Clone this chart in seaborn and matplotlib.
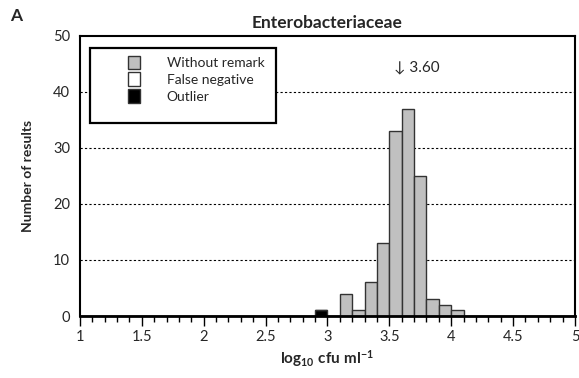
import numpy as np
import pandas as pd
import matplotlib
matplotlib.use("Agg")
import matplotlib.pyplot as plt
import seaborn as sns
from matplotlib.patches import Patch, Rectangle
from matplotlib.ticker import MultipleLocator

# Data
bin_left = [2.9, 3.1, 3.2, 3.3, 3.4, 3.5, 3.6, 3.7, 3.8, 3.9, 4.0]
counts = [1, 4, 1, 6, 13, 33, 37, 25, 3, 2, 1]
category = ["Outlier"] + ["Without remark"] * 10
categories = ["Without remark", "False negative", "Outlier"]
colors = {"Without remark": "#c0c0c0", "False negative": "#ffffff", "Outlier": "#000000"}
title = "Enterobacteriaceae"
median_label = "\u2193 3.60"

sns.set_theme(style="white")
plt.rcParams['font.family'] = ['Lato', 'DejaVu Sans']
plt.rcParams['mathtext.fontset'] = 'custom'
plt.rcParams['mathtext.rm'] = 'Lato:bold'
plt.rcParams['mathtext.it'] = 'Lato:bold'
plt.rcParams['mathtext.bf'] = 'Lato:bold'
plt.rcParams['mathtext.default'] = 'rm'

df = pd.DataFrame({"x": np.array(bin_left) + 0.05, "n": counts, "cat": category})

fig = plt.figure(figsize=(5.79, 3.78), dpi=100)
ax = fig.add_axes([0.138, 0.164, 0.855, 0.741])
sns.histplot(data=df, x="x", weights="n", hue="cat", binwidth=0.1, binrange=(1.0, 5.0),
             multiple="stack", hue_order=categories, palette=colors, alpha=1,
             edgecolor="#333333", linewidth=1.0, legend=False, ax=ax, zorder=3)

ax.set_xlim(1, 5)
ax.set_ylim(0, 50)
ax.xaxis.set_major_locator(MultipleLocator(0.5))
ax.xaxis.set_minor_locator(MultipleLocator(0.1))
ax.yaxis.set_major_locator(MultipleLocator(10))
ax.xaxis.set_major_formatter(matplotlib.ticker.FuncFormatter(lambda v, p: f"{v:g}"))
ax.tick_params(axis="x", which="major", direction="out", length=7, width=1, color="black",
               labelsize=10.5, pad=3, bottom=True)
ax.tick_params(axis="x", which="minor", direction="out", length=4, width=1, color="black", bottom=True)
ax.tick_params(axis="y", which="major", length=0, labelsize=10.5, pad=7)
for y in [10, 20, 30, 40]:
    ax.axhline(y, color="black", linestyle=(0, (2, 2)), linewidth=0.8, zorder=1)
for s in ax.spines.values():
    s.set_visible(True)
    s.set_color("black")
    s.set_linewidth(1.5)
ax.spines["bottom"].set_linewidth(2.0)
ax.spines["bottom"].set_zorder(5)

ax.set_xlabel(r"$\mathrm{log_{10}\ cfu\ ml^{-1}}$", fontsize=11, labelpad=3)
ax.set_ylabel("Number of results", fontsize=10, fontweight="bold", labelpad=14)
ax.set_title(title, fontsize=12.5, fontweight="bold", pad=6)
fig.text(0.018, 0.945, "A", fontsize=12.5, fontweight="bold")
ax.text(3.72, 44.3, median_label, fontsize=11, ha="center", va="center")

# legend box
ax.add_patch(Rectangle((0.02, 0.689), 0.376, 0.268, transform=ax.transAxes,
                       facecolor="white", edgecolor="black", linewidth=1.6, zorder=6))
handles = [Patch(facecolor=colors[c], edgecolor="#333333", linewidth=1) for c in categories]
leg = ax.legend(handles, categories, loc="upper left", bbox_to_anchor=(0.097, 0.93),
                fontsize=10, frameon=False, handlelength=0.9, handleheight=1.1,
                handletextpad=1.9, labelspacing=0.25, borderpad=0, borderaxespad=0)
leg.set_zorder(7)

fig.savefig("out.png", dpi=100)
